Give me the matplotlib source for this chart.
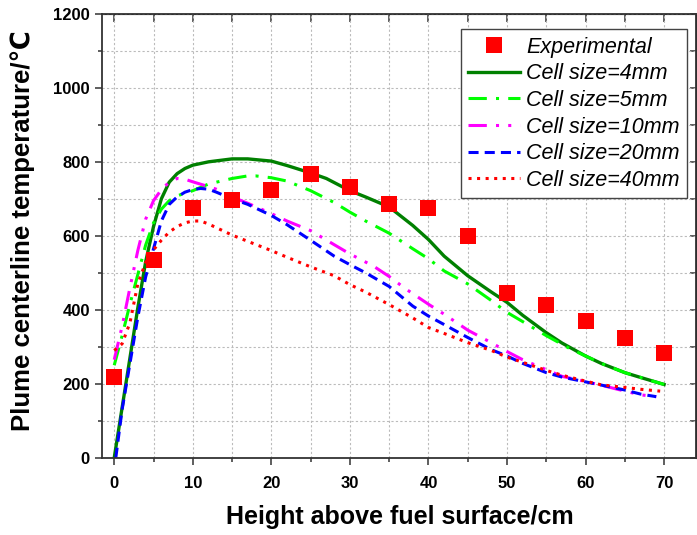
import matplotlib
matplotlib.use("Agg")
import matplotlib.pyplot as plt
from matplotlib.ticker import MultipleLocator

plt.rcParams['font.family'] = ['Liberation Sans', 'DejaVu Sans']

# experimental centerline temperatures
exp_x = [0, 5, 10, 15, 20, 25, 30, 35, 40, 45, 50, 55, 60, 65, 70]
exp_t = [217, 535, 676, 698, 724, 768, 733, 687, 676, 600, 445, 414, 370, 324, 283]

# simulated curves
x_4mm = [0, 1, 2, 3, 4, 5, 6, 7, 8, 9, 10, 12, 15, 17, 20, 22, 25, 27, 30, 32,
         35, 38, 40, 42, 45, 48, 50, 52, 55, 57, 60, 62, 65, 67, 70]
t_4mm = [0, 135, 270, 405, 530, 625, 700, 745, 768, 782, 791, 800, 808, 808, 802,
         790, 770, 755, 722, 705, 678, 628, 590, 545, 492, 448, 420, 385, 338,
         310, 275, 255, 230, 217, 198]

x_5mm = [0, 1, 2, 3, 4, 5, 6, 7, 8, 10, 12, 15, 17, 18, 20, 22, 25, 28, 30, 32,
         35, 38, 40, 42, 45, 48, 50, 52, 55, 58, 60, 62, 65, 67, 70]
t_5mm = [250, 330, 415, 495, 575, 635, 672, 695, 708, 722, 740, 755, 762, 762,
         757, 748, 722, 690, 664, 640, 607, 565, 538, 505, 470, 425, 393, 368,
         330, 295, 275, 255, 230, 217, 198]

x_10mm = [0, 1, 2, 3, 4, 5, 6, 7, 8, 9, 10, 12, 13, 15, 17, 20, 22, 25, 28, 30,
          33, 35, 37, 40, 42, 45, 48, 50, 52, 55, 57, 60, 62, 65, 67, 69]
t_10mm = [265, 355, 460, 560, 645, 695, 725, 745, 755, 753, 746, 733, 726, 705,
          688, 660, 640, 614, 576, 551, 518, 490, 458, 415, 388, 345, 311, 287,
          265, 238, 220, 206, 196, 180, 170, 165]

x_20mm = [0.2, 1, 2, 3, 4, 5, 6, 7, 8, 9, 10, 11, 12, 13, 15, 17, 20, 22, 25, 28,
          30, 32, 35, 38, 40, 42, 45, 48, 50, 52, 55, 57, 60, 63, 65, 67, 69]
t_20mm = [0, 130, 255, 380, 489, 565, 640, 685, 705, 718, 725, 728, 726, 718, 700,
          685, 655, 630, 588, 545, 522, 500, 463, 410, 383, 360, 325, 292, 275,
          255, 230, 218, 205, 192, 183, 172, 165]

x_40mm = [0, 1, 2, 3, 4, 5, 6, 7, 8, 9, 10, 11, 12, 15, 17, 20, 22, 25, 28, 30,
          32, 35, 38, 40, 42, 45, 48, 50, 52, 55, 57, 60, 62, 65, 67, 69.5]
t_40mm = [290, 308, 365, 470, 528, 562, 588, 610, 625, 635, 640, 640, 632, 602,
          585, 560, 542, 516, 492, 468, 448, 414, 378, 352, 336, 311, 290, 272,
          258, 236, 223, 207, 197, 190, 185, 180]

fig = plt.figure(figsize=(6.97, 5.35), dpi=100)
ax = fig.add_axes([0.147, 0.1445, 0.852, 0.8295])

ax.plot(exp_x, exp_t, ls='none', marker='s', ms=11.5, color='#ff0000',
        mec='#ff0000', mew=0, label='Experimental', zorder=5)
ax.plot(x_4mm, t_4mm, color='#008000', lw=2.4, label='Cell size=4mm')
ax.plot(x_5mm, t_5mm, color='#00ff00', lw=2.2, ls=(0, (6, 3, 1, 3)),
        label='Cell size=5mm')
ax.plot(x_10mm, t_10mm, color='#ff00ff', lw=2.2, ls=(0, (6, 3, 1, 3, 1, 3)),
        label='Cell size=10mm')
ax.plot(x_20mm, t_20mm, color='#0000ff', lw=2.2, ls=(0, (3.3, 2)),
        label='Cell size=20mm')
ax.plot(x_40mm, t_40mm, color='#ff0000', lw=2.2, ls=(0, (1, 1.8)),
        label='Cell size=40mm')

ax.set_xlim(-1.5, 74.1)
ax.set_ylim(0, 1200)
ax.xaxis.set_major_locator(MultipleLocator(10))
ax.xaxis.set_minor_locator(MultipleLocator(5))
ax.yaxis.set_major_locator(MultipleLocator(200))
ax.yaxis.set_minor_locator(MultipleLocator(100))
ax.grid(True, which='both', color='#bbbbbb', ls=(0, (2, 2)), lw=0.8)
ax.set_axisbelow(True)

for s in ax.spines.values():
    s.set_color('#333333')
    s.set_linewidth(1.3)
ax.tick_params(which='both', direction='out', width=1.1, color='#333333')
ax.tick_params(which='major', length=5)
ax.tick_params(which='minor', length=3)
ax.tick_params(axis='x', which='both', pad=8)
ax.tick_params(axis='y', which='both', pad=4)
for lab in ax.get_xticklabels() + ax.get_yticklabels():
    lab.set_fontweight('bold')
    lab.set_fontsize(12)

# mirrored ticks pointing inward on top and right
top = ax.secondary_xaxis('top')
top.xaxis.set_major_locator(MultipleLocator(10))
top.xaxis.set_minor_locator(MultipleLocator(5))
top.tick_params(which='both', direction='in', length=6, width=1.1,
                color='#333333', labeltop=False)
right = ax.secondary_yaxis('right')
right.yaxis.set_major_locator(MultipleLocator(200))
right.yaxis.set_minor_locator(MultipleLocator(100))
right.tick_params(which='both', direction='in', length=4, width=1.1,
                  color='#333333', labelright=False)

ax.set_xlabel('Height above fuel surface/cm', fontsize=18, fontweight='bold',
              labelpad=10)
ax.set_ylabel('Plume centerline temperature/\u2103', fontsize=18.5,
              fontweight='bold')
ax.yaxis.set_label_coords(-0.113, 0.511)

leg = ax.legend(loc='upper right', bbox_to_anchor=(0.985, 0.9655),
                borderaxespad=0, fancybox=False, framealpha=1,
                edgecolor='#444444', prop={'style': 'italic', 'size': 15.5},
                handlelength=2.4, handletextpad=0.3, labelspacing=0.26,
                borderpad=0.35)
leg.get_frame().set_linewidth(1.0)

fig.savefig('out.png', dpi=100)
